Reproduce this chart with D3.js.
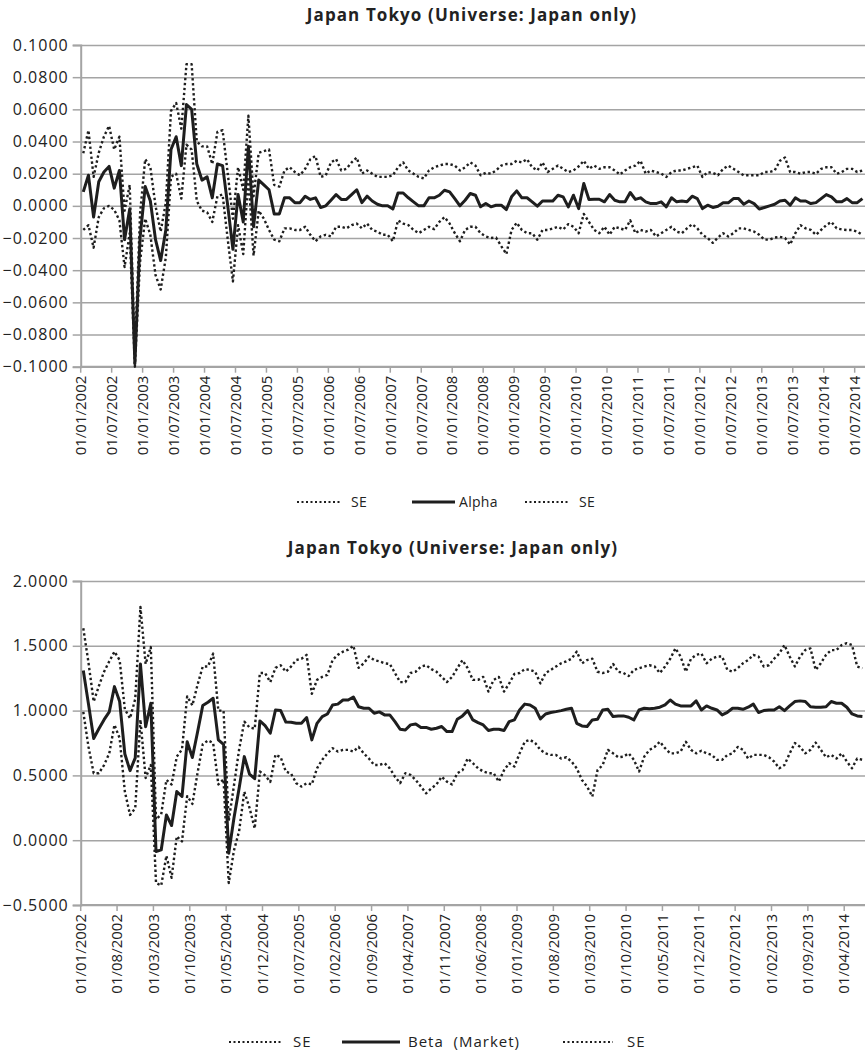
<!DOCTYPE html>
<meta charset="utf-8">
<script src="https://d3js.org/d3.v7.min.js"></script>
<style>
  body { margin: 0; background: #fff; }
  text { font-family: "Open Sans", sans-serif; fill: #222; }
</style>
<svg></svg>
<script>
// ---- data ----
const fmtDate = d3.timeFormat("%d/%m/%Y");
const alphaDates = d3.timeMonth.range(new Date(2002, 0, 1), new Date(2014, 8, 1)).map(fmtDate);
const betaDates = d3.timeMonth.range(new Date(2002, 0, 1), new Date(2014, 7, 1)).map(fmtDate);

const alphaTicks = ["01/01/2002","01/07/2002","01/01/2003","01/07/2003","01/01/2004","01/07/2004",
  "01/01/2005","01/07/2005","01/01/2006","01/07/2006","01/01/2007","01/07/2007","01/01/2008",
  "01/07/2008","01/01/2009","01/07/2009","01/01/2010","01/07/2010","01/01/2011","01/07/2011",
  "01/01/2012","01/07/2012","01/01/2013","01/07/2013","01/01/2014","01/07/2014"];
const betaTicks = ["01/01/2002","01/08/2002","01/03/2003","01/10/2003","01/05/2004","01/12/2004",
  "01/07/2005","01/02/2006","01/09/2006","01/04/2007","01/11/2007","01/06/2008","01/01/2009",
  "01/08/2009","01/03/2010","01/10/2010","01/05/2011","01/12/2011","01/07/2012","01/02/2013",
  "01/09/2013","01/04/2014"];

const alphaYTicks = [-0.1, -0.08, -0.06, -0.04, -0.02, 0, 0.02, 0.04, 0.06, 0.08, 0.1];
const betaYTicks = [-0.5, 0, 0.5, 1, 1.5, 2];

const alpha = [
  0.0087, 0.019, -0.007, 0.015, 0.021, 0.0245, 0.011, 0.022, -0.021, -0.002,
  -0.098, -0.020, 0.012, 0.003, -0.021, -0.034, -0.015, 0.035, 0.043, 0.025,
  0.063, 0.060, 0.026, 0.016, 0.018, 0.005, 0.026, 0.025, 0.000, -0.027,
  0.007, -0.010, 0.037, -0.013, 0.016, 0.013, 0.010, -0.005, -0.005, 0.005,
  0.005, 0.002, 0.002, 0.006, 0.004, 0.005, -0.001, 0.000, 0.0035, 0.007,
  0.004, 0.004, 0.007, 0.010, 0.002, 0.006, 0.003, 0.001, 0.000, 0.000,
  -0.002, 0.008, 0.008, 0.005, 0.0025, 0.000, 0.000, 0.005, 0.005, 0.0066,
  0.0097, 0.0087, 0.0045, 0.000, 0.0035, 0.0077, 0.0066, -0.0006, 0.0014, -0.0006,
  0.0004, 0.0004, -0.0023, 0.0056, 0.0093, 0.005, 0.005, 0.0025, -0.0002, 0.003,
  0.003, 0.003, 0.0066, 0.0056, -0.0006, 0.0066, -0.0017, 0.0139, 0.004, 0.0041,
  0.0041, 0.0025, 0.007, 0.0035, 0.0025, 0.0025, 0.0083, 0.004, 0.005, 0.0025,
  0.0014, 0.0014, 0.0025, -0.0006, 0.005, 0.0025, 0.003, 0.0025, 0.006, 0.0045,
  -0.0017, 0.0004, -0.001, -0.0002, 0.0019, 0.0019, 0.0045, 0.0045, 0.001, 0.003,
  0.0014, -0.002, -0.001, 0.000, 0.001, 0.003, 0.0035, 0.0004, 0.005, 0.003,
  0.003, 0.0014, 0.002, 0.0045, 0.007, 0.0056, 0.0025, 0.0025, 0.0045, 0.002,
  0.002, 0.0045];
const alphaUpper = [
  0.0327, 0.047, 0.018, 0.033, 0.043, 0.0497, 0.035, 0.043, -0.003, 0.013,
  -0.093, -0.005, 0.029, 0.024, 0.000, -0.016, 0.002, 0.059, 0.064, 0.048,
  0.088, 0.088, 0.040, 0.037, 0.037, 0.026, 0.046, 0.047, 0.020, -0.008,
  0.024, 0.010, 0.056, 0.006, 0.033, 0.034, 0.035, 0.013, 0.012, 0.022,
  0.024, 0.021, 0.019, 0.023, 0.029, 0.031, 0.018, 0.019, 0.027, 0.029,
  0.022, 0.023, 0.027, 0.030, 0.020, 0.022, 0.020, 0.018, 0.018, 0.018,
  0.019, 0.024, 0.027, 0.022, 0.020, 0.018, 0.017, 0.022, 0.024, 0.025,
  0.026, 0.026, 0.025, 0.022, 0.024, 0.027, 0.025, 0.019, 0.0205, 0.020,
  0.022, 0.025, 0.026, 0.026, 0.028, 0.027, 0.029, 0.024, 0.022, 0.027,
  0.021, 0.023, 0.025, 0.023, 0.021, 0.022, 0.0245, 0.028, 0.023, 0.025,
  0.023, 0.024, 0.024, 0.022, 0.0195, 0.022, 0.024, 0.025, 0.028, 0.020,
  0.022, 0.021, 0.020, 0.018, 0.021, 0.022, 0.022, 0.023, 0.024, 0.025,
  0.018, 0.021, 0.0205, 0.019, 0.023, 0.025, 0.023, 0.021, 0.019, 0.019,
  0.019, 0.019, 0.021, 0.021, 0.022, 0.028, 0.030, 0.021, 0.021, 0.020,
  0.021, 0.021, 0.020, 0.023, 0.024, 0.024, 0.020, 0.021, 0.023, 0.023,
  0.021, 0.022];
const alphaLower = [
  -0.015, -0.012, -0.026, -0.007, -0.0015, 0.000, -0.0025, -0.009, -0.038, -0.017,
  -0.100, -0.035, -0.008, -0.018, -0.043, -0.052, -0.032, 0.018, 0.020, 0.0045,
  0.038, 0.035, 0.003, -0.003, -0.004, -0.010, 0.006, 0.007, -0.021, -0.047,
  -0.012, -0.030, 0.018, -0.031, -0.003, -0.008, -0.015, -0.021, -0.022, -0.014,
  -0.014, -0.015, -0.015, -0.013, -0.018, -0.022, -0.019, -0.018, -0.019, -0.013,
  -0.013, -0.014, -0.012, -0.011, -0.014, -0.011, -0.015, -0.016, -0.018, -0.018,
  -0.022, -0.009, -0.011, -0.012, -0.015, -0.017, -0.015, -0.013, -0.0145, -0.010,
  -0.007, -0.011, -0.017, -0.022, -0.015, -0.013, -0.013, -0.017, -0.019, -0.020,
  -0.0197, -0.025, -0.030, -0.015, -0.0105, -0.015, -0.017, -0.017, -0.021, -0.015,
  -0.015, -0.014, -0.013, -0.0147, -0.0114, -0.013, -0.017, -0.005, -0.010, -0.015,
  -0.017, -0.013, -0.018, -0.013, -0.014, -0.015, -0.009, -0.017, -0.015, -0.016,
  -0.015, -0.019, -0.017, -0.015, -0.013, -0.016, -0.017, -0.014, -0.0114, -0.014,
  -0.018, -0.020, -0.023, -0.0197, -0.017, -0.019, -0.017, -0.014, -0.014, -0.015,
  -0.016, -0.018, -0.021, -0.021, -0.0197, -0.0193, -0.020, -0.024, -0.017, -0.012,
  -0.014, -0.015, -0.018, -0.015, -0.012, -0.010, -0.014, -0.0147, -0.015, -0.015,
  -0.016, -0.018];

const beta = [
  1.31, 1.05, 0.785, 0.86, 0.93, 0.99, 1.185, 1.07, 0.665, 0.537,
  0.635, 1.36, 0.875, 1.057, -0.087, -0.075, 0.195, 0.113, 0.375, 0.337,
  0.76, 0.638, 0.835, 1.04, 1.065, 1.095, 0.774, 0.74, -0.10, 0.17,
  0.40, 0.645, 0.51, 0.475, 0.92, 0.884, 0.825, 1.005, 1.0, 0.912,
  0.91, 0.902, 0.902, 0.946, 0.774, 0.902, 0.954, 0.974, 1.044, 1.05,
  1.082, 1.082, 1.105, 1.03, 1.018, 1.018, 0.98, 0.99, 0.967, 0.967,
  0.915, 0.856, 0.85, 0.89, 0.897, 0.87, 0.87, 0.856, 0.864, 0.877,
  0.838, 0.838, 0.933, 0.959, 1.0, 0.928, 0.907, 0.889, 0.846, 0.856,
  0.856, 0.846, 0.915, 0.928, 1.005, 1.05, 1.044, 1.018, 0.936, 0.974,
  0.985, 0.992, 1.0, 1.01, 1.018, 0.902, 0.882, 0.877, 0.928, 0.933,
  1.005, 1.01, 0.954, 0.959, 0.959, 0.949, 0.928, 1.005, 1.018, 1.014,
  1.018, 1.026, 1.044, 1.082, 1.05, 1.036, 1.036, 1.036, 1.075, 1.005,
  1.036, 1.018, 1.005, 0.967, 0.987, 1.018, 1.018, 1.01, 1.026, 1.05,
  0.985, 1.0, 1.005, 1.005, 1.03, 1.0, 1.036, 1.07, 1.075, 1.07,
  1.03, 1.026, 1.026, 1.03, 1.07, 1.057, 1.057, 1.026, 0.974, 0.959,
  0.955];
const betaUpper = [
  1.635, 1.37, 1.07, 1.19, 1.30, 1.38, 1.455, 1.39, 1.01, 0.94,
  1.09, 1.80, 1.36, 1.49, 0.16, 0.20, 0.465, 0.43, 0.645, 0.70,
  1.11, 1.04, 1.20, 1.34, 1.34, 1.44, 1.0, 1.0, 0.15, 0.42,
  0.70, 0.915, 0.87, 0.86, 1.29, 1.29, 1.22, 1.33, 1.35, 1.30,
  1.34, 1.39, 1.40, 1.43, 1.13, 1.237, 1.26, 1.275, 1.39, 1.43,
  1.455, 1.47, 1.50, 1.33, 1.365, 1.417, 1.39, 1.38, 1.365, 1.36,
  1.29, 1.22, 1.22, 1.29, 1.30, 1.34, 1.35, 1.32, 1.30, 1.26,
  1.22, 1.26, 1.327, 1.39, 1.327, 1.237, 1.237, 1.26, 1.147, 1.237,
  1.26, 1.147, 1.21, 1.283, 1.29, 1.32, 1.314, 1.30, 1.21, 1.29,
  1.314, 1.34, 1.365, 1.38, 1.40, 1.455, 1.365, 1.39, 1.40, 1.30,
  1.29, 1.30, 1.36, 1.30, 1.29, 1.267, 1.314, 1.327, 1.34, 1.35,
  1.34, 1.29, 1.34, 1.40, 1.48, 1.417, 1.30, 1.40, 1.43, 1.44,
  1.365, 1.40, 1.417, 1.417, 1.314, 1.30, 1.327, 1.365, 1.39, 1.43,
  1.417, 1.34, 1.35, 1.40, 1.44, 1.506, 1.417, 1.34, 1.417, 1.467,
  1.48, 1.314, 1.365, 1.43, 1.467, 1.467, 1.506, 1.52, 1.506, 1.34,
  1.327];
const betaLower = [
  0.99, 0.72, 0.517, 0.517, 0.58, 0.67, 0.89, 0.787, 0.375, 0.195,
  0.247, 0.93, 0.48, 0.58, -0.33, -0.35, -0.12, -0.29, 0.03, -0.01,
  0.34, 0.28, 0.52, 0.74, 0.77, 0.75, 0.43, 0.47, -0.33, -0.08,
  0.07, 0.375, 0.25, 0.09, 0.53, 0.50, 0.45, 0.66, 0.64, 0.53,
  0.514, 0.44, 0.414, 0.44, 0.43, 0.555, 0.62, 0.67, 0.71, 0.684,
  0.697, 0.697, 0.684, 0.72, 0.67, 0.63, 0.58, 0.58, 0.594, 0.555,
  0.49, 0.44, 0.517, 0.504, 0.465, 0.414, 0.362, 0.40, 0.43, 0.49,
  0.452, 0.43, 0.517, 0.54, 0.63, 0.594, 0.555, 0.53, 0.517, 0.517,
  0.452, 0.54, 0.594, 0.568, 0.67, 0.76, 0.774, 0.75, 0.697, 0.67,
  0.658, 0.658, 0.63, 0.64, 0.607, 0.555, 0.465, 0.414, 0.337, 0.54,
  0.58, 0.697, 0.67, 0.64, 0.645, 0.67, 0.62, 0.53, 0.645, 0.697,
  0.72, 0.76, 0.71, 0.67, 0.67, 0.684, 0.76, 0.697, 0.67, 0.69,
  0.67, 0.658, 0.62, 0.62, 0.658, 0.67, 0.72, 0.697, 0.63, 0.658,
  0.658, 0.658, 0.64, 0.607, 0.555, 0.58, 0.67, 0.75, 0.72, 0.67,
  0.697, 0.753, 0.697, 0.64, 0.658, 0.63, 0.67, 0.607, 0.555, 0.63,
  0.62];

// ---- drawing ----
const W = 865, H = 1055;
const svg = d3.select("svg").attr("width", W).attr("height", H);

const gridColor = "#a4a4a4";
const lineColor = "#1e1e1e";
const dots = "2.4,2.6";

function panel(o) {
  const g = svg.append("g");
  const x = d3.scaleBand().domain(o.dates).range([o.left, o.right]);
  const bw = x.bandwidth();
  const y = d3.scaleLinear().domain(o.yDomain).range([o.bottom, o.top]);

  g.append("text")
    .attr("x", o.titleX).attr("y", o.titleY)
    .attr("text-anchor", "middle")
    .style("font-weight", "bold").style("font-size", "17px")
    .style("letter-spacing", "1.1px")
    .text("Japan Tokyo (Universe: Japan only)");

  // horizontal gridlines
  g.append("g")
    .attr("transform", `translate(${o.left},0)`)
    .call(d3.axisLeft(y).tickValues(o.yTicks).tickSize(-(o.right - o.left)).tickFormat(""))
    .call(a => a.select(".domain").remove())
    .call(a => a.selectAll("line").attr("stroke", gridColor).attr("stroke-width", 1.5));

  // y axis with labels
  g.append("g")
    .attr("transform", `translate(${o.left},0)`)
    .call(d3.axisLeft(y).tickValues(o.yTicks).tickSize(8).tickPadding(4)
      .tickFormat(d => d3.format(".4f")(Math.abs(d) < 1e-9 ? 0 : d)))
    .call(a => a.select(".domain").attr("stroke", gridColor).attr("stroke-width", 2))
    .call(a => a.selectAll("line").attr("stroke", gridColor).attr("stroke-width", 1.5))
    .call(a => a.selectAll("text").style("font-size", "16px")
      .style("letter-spacing", "1px").attr("fill", "#222"));

  // x axis, ticks on category boundaries
  g.append("g")
    .attr("transform", `translate(${-bw / 2},${o.bottom})`)
    .call(d3.axisBottom(x).tickValues(o.xTicks).tickSize(6).tickSizeOuter(0))
    .call(a => a.select(".domain").remove())
    .call(a => a.selectAll("line").attr("stroke", gridColor).attr("stroke-width", 1.5))
    .call(a => a.selectAll("text")
      .style("font-size", "15px").attr("fill", "#222")
      .attr("transform", "rotate(-90)")
      .attr("text-anchor", "end")
      .attr("x", -9).attr("y", 0).attr("dy", "0.35em"));
  g.append("line")
    .attr("x1", o.left).attr("x2", o.right)
    .attr("y1", o.bottom).attr("y2", o.bottom)
    .attr("stroke", gridColor).attr("stroke-width", 2);

  const clipId = "clip" + o.id;
  svg.append("clipPath").attr("id", clipId).append("rect")
    .attr("x", o.left).attr("y", o.top - 2)
    .attr("width", o.right - o.left).attr("height", o.bottom - o.top + 4);

  const line = vals => d3.line()
    .x((d, i) => x(o.dates[i]) + bw / 2)
    .y(d => y(d))(vals);

  const series = [
    { vals: o.upper, dash: dots, w: 2.4 },
    { vals: o.lower, dash: dots, w: 2.4 },
    { vals: o.mid, dash: null, w: 3 }
  ];
  g.append("g").attr("clip-path", `url(#${clipId})`)
    .selectAll("path").data(series).join("path")
    .attr("d", s => line(s.vals))
    .attr("fill", "none")
    .attr("stroke", lineColor)
    .attr("stroke-width", s => s.w)
    .attr("stroke-linejoin", "round")
    .attr("stroke-dasharray", s => s.dash);

  // legend
  const lg = g.append("g").attr("transform", `translate(0,${o.legendY})`);
  o.legend.forEach(item => {
    lg.append("line")
      .attr("x1", item.x).attr("x2", item.x + item.len)
      .attr("y1", 0).attr("y2", 0)
      .attr("stroke", lineColor)
      .attr("stroke-width", item.dash ? 2.2 : 3)
      .attr("stroke-dasharray", item.dash ? "2,2.5" : null);
    lg.append("text")
      .attr("x", item.x + item.len + item.gap).attr("y", 0).attr("dy", "0.35em")
      .style("font-size", o.legendSize)
      .style("letter-spacing", o.legendSpacing)
      .style("white-space", "pre")
      .text(item.label);
  });
}

panel({
  id: "a", dates: alphaDates, xTicks: alphaTicks, yTicks: alphaYTicks,
  yDomain: [-0.1, 0.1], left: 80.7, right: 865, top: 45, bottom: 366.7,
  titleX: 472, titleY: 21,
  mid: alpha, upper: alphaUpper, lower: alphaLower,
  legendY: 502, legendSize: "14px", legendSpacing: "0.3px",
  legend: [
    { x: 297, len: 45, gap: 9, dash: true, label: "SE" },
    { x: 412, len: 43, gap: 4, dash: false, label: "Alpha" },
    { x: 525, len: 45, gap: 9, dash: true, label: "SE" }
  ]
});

panel({
  id: "b", dates: betaDates, xTicks: betaTicks, yTicks: betaYTicks,
  yDomain: [-0.5, 2.0], left: 80.7, right: 865, top: 581, bottom: 905,
  titleX: 453, titleY: 554,
  mid: beta, upper: betaUpper, lower: betaLower,
  legendY: 1042, legendSize: "15px", legendSpacing: "1px",
  legend: [
    { x: 229, len: 53, gap: 11, dash: true, label: "SE" },
    { x: 342, len: 58, gap: 8, dash: false, label: "Beta  (Market)" },
    { x: 563, len: 50, gap: 14, dash: true, label: "SE" }
  ]
});
</script>
